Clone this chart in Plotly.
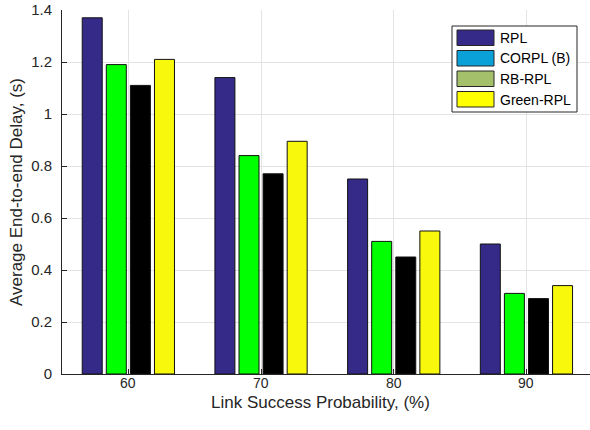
import plotly.graph_objects as go

# Link success probability (%) and average end-to-end delay (s) per protocol
link_success = [60, 70, 80, 90]
delay_rpl = [1.37, 1.14, 0.75, 0.50]
delay_corpl = [1.19, 0.84, 0.51, 0.31]
delay_rbrpl = [1.11, 0.77, 0.45, 0.29]
delay_green = [1.21, 0.895, 0.55, 0.34]

series_names = ["RPL", "CORPL (B)", "RB-RPL", "Green-RPL"]
series_values = [delay_rpl, delay_corpl, delay_rbrpl, delay_green]
bar_colors = ["#352a87", "#00ff00", "#000000", "#f8f80c"]
legend_colors = ["#352a87", "#0aa0d8", "#a5c06a", "#ffff00"]

y_ticks = [0, 0.2, 0.4, 0.6, 0.8, 1.0, 1.2, 1.4]
y_tick_text = ["0", "0.2", "0.4", "0.6", "0.8", "1", "1.2", "1.4"]

W, H = 590, 430
ML, MR, MT, MB = 62, 0, 10, 56
FONT = "Liberation Sans, Arial, Helvetica, sans-serif"
INK = "#262626"

fig = go.Figure()
for name, vals, col in zip(series_names, series_values, bar_colors):
    fig.add_trace(go.Bar(
        x=link_success, y=vals, name=name, showlegend=False,
        marker=dict(color=col, line=dict(color="#111111", width=1)),
    ))

# Boxed legend drawn from pixel geometry
pw, ph = W - ML - MR, H - MT - MB


def px_x(x):
    return (x - ML) / pw


def px_y(y):
    return 1 - (y - MT) / ph


shapes = [dict(type="rect", xref="paper", yref="paper",
               x0=px_x(452), x1=px_x(577), y0=px_y(112), y1=px_y(26),
               line=dict(color=INK, width=1), fillcolor="white", layer="above")]
annotations = []
for i, (name, col) in enumerate(zip(series_names, legend_colors)):
    top = 30 + i * 20.5
    shapes.append(dict(type="rect", xref="paper", yref="paper",
                       x0=px_x(457), x1=px_x(494), y0=px_y(top + 15.5), y1=px_y(top),
                       line=dict(color=INK, width=1), fillcolor=col, layer="above"))
    annotations.append(dict(xref="paper", yref="paper", x=px_x(498), y=px_y(top + 8),
                            text=name, showarrow=False, xanchor="left", yanchor="middle",
                            font=dict(family=FONT, size=14, color="#000000")))

# x tick labels sit just under the axis line, at each category value
for v in link_success:
    annotations.append(dict(xref="x", yref="paper", x=v, y=px_y(383),
                            text=str(v), showarrow=False, xanchor="center", yanchor="middle",
                            borderpad=0, font=dict(family=FONT, size=14, color=INK)))

# x-axis title placed below the tick labels
annotations.append(dict(xref="paper", yref="paper", x=px_x(320), y=px_y(402),
                        text="Link Success Probability, (%)", showarrow=False,
                        xanchor="center", yanchor="middle", borderpad=0,
                        font=dict(family=FONT, size=17, color=INK)))

fig.update_layout(
    width=W, height=H,
    margin=dict(l=ML, r=MR, t=MT, b=MB),
    paper_bgcolor="white", plot_bgcolor="white",
    barmode="group", bargap=0.274, bargroupgap=0.17,
    font=dict(family=FONT, size=15, color=INK),
    shapes=shapes, annotations=annotations,
    xaxis=dict(
        range=[55, 94.79], tickvals=link_success, showticklabels=False,
        showgrid=True, gridcolor="#e3e3e3", gridwidth=1,
        showline=True, linecolor=INK, linewidth=1, mirror=False,
        ticks="inside", ticklen=5, tickcolor=INK, zeroline=False,
    ),
    yaxis=dict(
        range=[0, 1.4], tickvals=y_ticks, ticktext=y_tick_text,
        showgrid=True, gridcolor="#e3e3e3", gridwidth=1,
        showline=True, linecolor=INK, linewidth=1, mirror=False,
        ticks="inside", ticklen=5, tickcolor=INK, zeroline=False,
        tickfont=dict(size=15, color=INK), ticklabelstandoff=6,
        title=dict(text="Average End-to-end Delay, (s)", font=dict(size=17, color=INK), standoff=4),
    ),
)

fig.write_html("out.html")
